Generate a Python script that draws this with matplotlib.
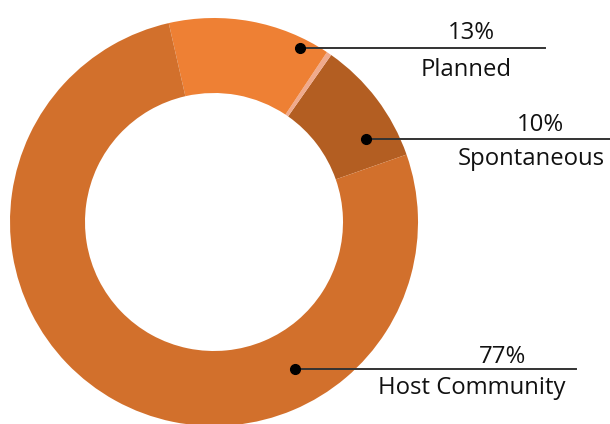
import matplotlib
matplotlib.use("Agg")
import matplotlib.pyplot as plt

# slice order counterclockwise starting at the right
labels = ["Spontaneous", "", "Planned", "Host Community"]
values = [9.9, 0.4, 12.9, 76.8]
pct_text = ["10%", "", "13%", "77%"]
colors = ["#B35E22", "#F0AA8C", "#EE8034", "#D2702C"]

plt.rcParams["font.family"] = ["Open Sans", "DejaVu Sans"]

W, H = 610, 424
fig = plt.figure(figsize=(W / 100, H / 100), dpi=100)
ax = fig.add_axes([0, 0, 1, 1])

cx, cy, R = 214, H - 222, 204
ax.pie(values, colors=colors, startangle=19.3, counterclock=True,
       center=(cx, cy), radius=R, wedgeprops=dict(width=75, linewidth=0),
       frame=True)
ax.set_xlim(0, W)
ax.set_ylim(0, H)
ax.set_aspect("equal")
ax.axis("off")

# callouts: dot (x, y), line end x, pct text pos, label text pos (pixels from top-left)
callouts = {
    "Planned": ((300, 48), 545, (471, 33), (466, 70)),
    "Spontaneous": ((366, 139), 610, (540, 125), (531, 159)),
    "Host Community": ((295, 369), 576, (503, 357), (472, 388)),
}
for lab, pct in zip(labels, pct_text):
    if lab not in callouts:
        continue
    (dx, dy), lx, (px, py), (tx, ty) = callouts[lab]
    ax.plot([dx, lx], [H - dy, H - dy], color="#333333", lw=1.4, zorder=3)
    ax.plot(dx, H - dy, "o", color="black", ms=7, zorder=4)
    ax.text(px, H - py, pct, ha="center", va="center", fontsize=17.2, color="#111111")
    ax.text(tx, H - ty, lab, ha="center", va="center", fontsize=17.2, color="#111111")

fig.savefig("out.png", dpi=100)
